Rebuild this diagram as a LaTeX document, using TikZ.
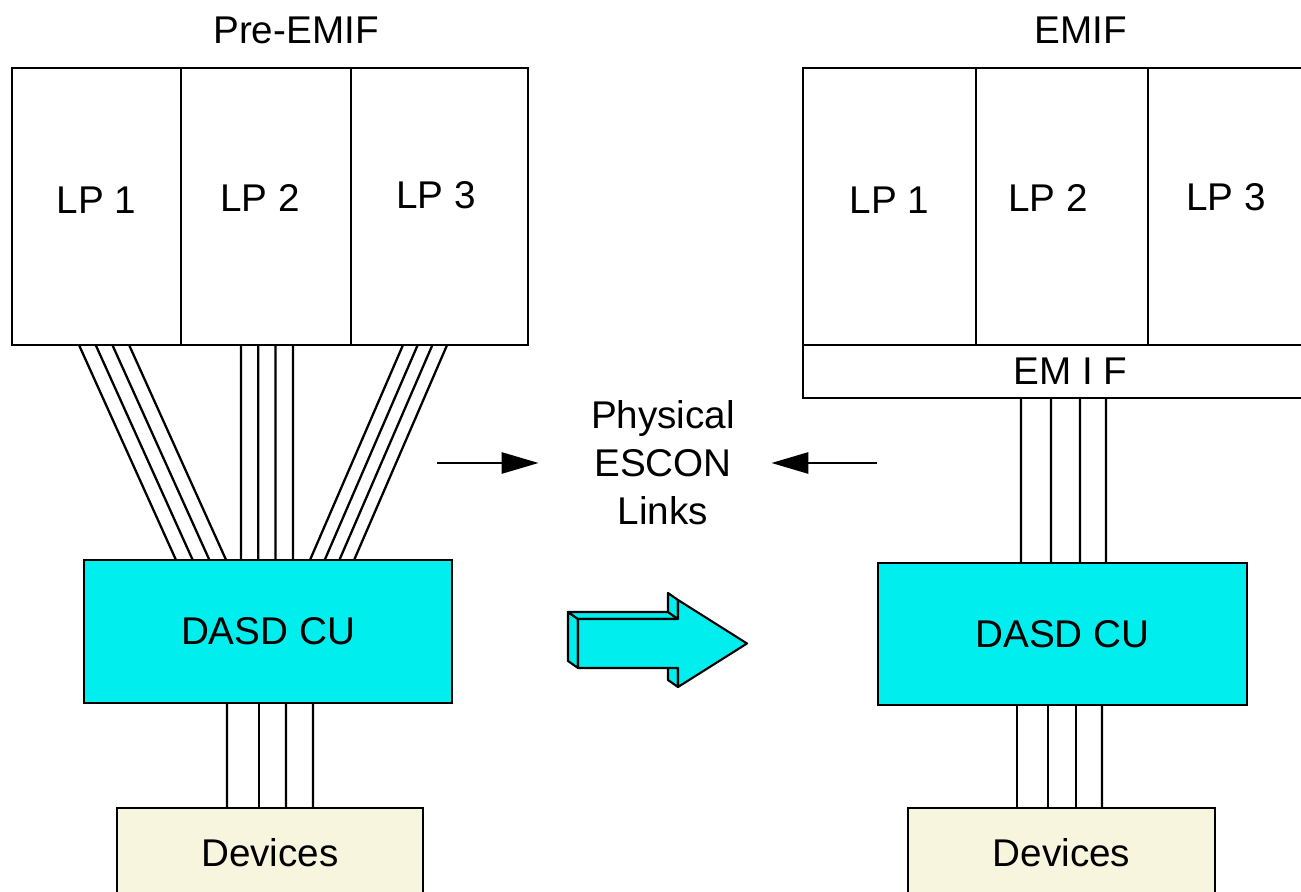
\documentclass[tikz,border=0pt]{standalone}
\usepackage{fontspec}
\setmainfont{Liberation Sans}
\usetikzlibrary{positioning,calc,arrows.meta}

\definecolor{cucyan}{RGB}{0,238,238}
\definecolor{devbeige}{RGB}{247,245,222}

\tikzset{
  box/.style={draw, line width=0.65pt, outer sep=0pt, inner sep=0pt, font=\fontsize{11}{13}\selectfont},
  lpbox/.style={box, minimum height=2.77cm},
  cubox/.style={box, fill=cucyan, minimum width=3.68cm, minimum height=1.43cm},
  devbox/.style={box, fill=devbeige, minimum width=3.06cm, minimum height=0.9cm},
  link/.style={line width=0.65pt},
  tag/.style={font=\fontsize{11}{13.7}\selectfont, align=center},
  pointer/.style={line width=0.8pt, -{Triangle[length=0.37cm,width=0.21cm]}},
  face/.style={draw, fill=cucyan, line width=0.6pt, line join=round},
}

\begin{document}
\begin{tikzpicture}
\useasboundingbox (0,0) rectangle (13.01,8.92);
\clip (0,0) rectangle (13.01,8.92);

% before EMIF
\node[tag] (pre) at (2.96,8.62) {Pre-EMIF};
\node[lpbox, minimum width=1.69cm, label={[tag,yshift=0.065cm]center:LP 1}] (lp1) at (0.965,6.855) {};
\node[lpbox, minimum width=1.70cm, right=0pt of lp1, label={[tag,xshift=-0.06cm,yshift=0.085cm]center:LP 2}] (lp2) {};
\node[lpbox, minimum width=1.77cm, right=0pt of lp2, label={[tag,xshift=-0.035cm,yshift=0.11cm]center:LP 3}] (lp3) {};
\node[cubox] (cuL) at (2.68,2.605) {DASD CU};
\node[devbox] (devL) at (2.70,0.39) {Devices};

\foreach \i in {0,...,3} {
    \draw[link] ($(lp1.south west)+(0.67+0.167*\i,0)$) -- ($(cuL.north west)+(0.92+0.167*\i,0)$);
    \draw[link] ($(lp2.south west)+(0.60+0.173*\i,0)$) -- ($(cuL.north west)+(1.57+0.173*\i,0)$);
    \draw[link] ($(lp3.south west)+(0.52+0.147*\i,0)$) -- ($(cuL.north west)+(2.26+0.147*\i,0)$);
}
\foreach \x in {2.27,2.59,2.86,3.13}
    \draw[link] ($(cuL.south west)+(\x-0.84,0)$) -- ($(devL.north west)+(\x-1.17,0)$);

% with EMIF
\node[tag] (post) at (10.81,8.62) {EMIF};
\node[lpbox, minimum width=1.73cm, label={[tag,yshift=0.065cm]center:LP 1}] (rp1) at (8.895,6.855) {};
\node[lpbox, minimum width=1.72cm, right=0pt of rp1, label={[tag,xshift=-0.14cm,yshift=0.085cm]center:LP 2}] (rp2) {};
\node[lpbox, minimum width=1.56cm, right=0pt of rp2, label={[tag,yshift=0.095cm]center:LP 3}] (rp3) {};
\node[box, anchor=north west, minimum width=5.01cm, minimum height=0.53cm,
      label={[tag, xshift=0.17cm]center:EM I F}] (emif) at (rp1.south west) {};
\node[cubox, minimum width=3.69cm, minimum height=1.42cm] (cuR) at (10.625,2.58) {DASD CU};
\node[devbox, minimum width=3.07cm] (devR) at (10.615,0.39) {Devices};

\foreach \x in {10.21,10.51,10.80,11.06}
    \draw[link] ($(emif.south west)+(\x-8.03,0)$) -- ($(cuR.north west)+(\x-8.78,0)$);
\foreach \x in {10.17,10.48,10.76,11.02}
    \draw[link] ($(cuR.south west)+(\x-8.78,0)$) -- ($(devR.north west)+(\x-9.08,0)$);

% label in the middle
\node[tag] (links) at (6.63,4.29) {Physical\\ESCON\\Links};
\coordinate (fromL) at (4.37,4.29);
\coordinate (fromR) at (8.77,4.29);
\draw[pointer] (fromL) -- ([xshift=-0.40cm]links.west);
\draw[pointer] (fromR) -- ([xshift=0.24cm]links.east);

% big arrow
\filldraw[face] (5.78,2.73) -- (5.78,2.24) -- (5.68,2.31) -- (5.68,2.80) -- cycle;
\filldraw[face] (5.78,2.73) -- (6.78,2.73) -- (6.68,2.80) -- (5.68,2.80) -- cycle;
\filldraw[face] (6.78,2.73) -- (6.78,2.92) -- (6.68,2.99) -- (6.68,2.80) -- cycle;
\filldraw[face] (6.78,2.24) -- (6.78,2.05) -- (6.68,2.12) -- (6.68,2.31) -- cycle;
\filldraw[face] (5.78,2.73) -- (6.78,2.73) -- (6.78,2.92) -- (7.47,2.485)
    -- (6.78,2.05) -- (6.78,2.24) -- (5.78,2.24) -- cycle;

\end{tikzpicture}
\end{document}
